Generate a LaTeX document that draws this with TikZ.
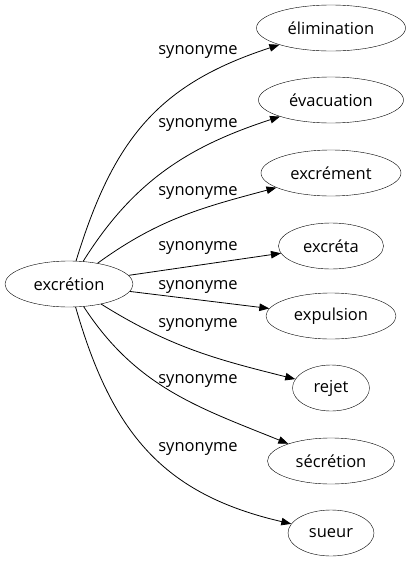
\documentclass[tikz,border=0pt]{standalone}
\usepackage{fontspec}
\setmainfont{Open Sans}
\usetikzlibrary{arrows.meta,shapes.geometric}

\begin{document}
\begin{tikzpicture}[x=1pt,y=1pt,>={Triangle[length=10pt,width=7.5pt]},
	word/.style={draw,ellipse,inner sep=0pt,minimum height=46pt,font=\fontsize{16.5}{19}\selectfont},
	rel/.style={inner sep=0pt,font=\fontsize{16.5}{19}\selectfont},
	link/.style={->,line width=.8pt}]

\useasboundingbox (0,0) rectangle (411,-563);

\node [word,minimum width=128pt] (excretion) at (69,-284) {excrétion};

\foreach \name/\txt/\w/\y in {elimination/élimination/149/28, evacuation/évacuation/145/100,
	excrement/excrément/140/173, excreta/excréta/105/246, expulsion/expulsion/130/316,
	rejet/rejet/77/388, secretion/sécrétion/127/461, sueur/sueur/86/533} {
	\node [word,minimum width=\w pt] (\name) at (331,-\y) {\txt};
}

\foreach \y [count=\i] in {52,125,193,248,287,325,381,449} {
	\node [rel] (syn\i) at (198,-\y) {synonyme};
}

\foreach \name/\o/\n/\l in {elimination/73/198/1.1, evacuation/58/198/1, excrement/36/195/1,
	rejet/-32/166/1, secretion/-57/158/1, sueur/-74/167/1.1} {
	\draw [link] (excretion) to[out=\o,in=\n,looseness=\l] (\name);
}
\draw [link] (excretion) -- (excreta);
\draw [link] (excretion) -- (expulsion);

\end{tikzpicture}
\end{document}
